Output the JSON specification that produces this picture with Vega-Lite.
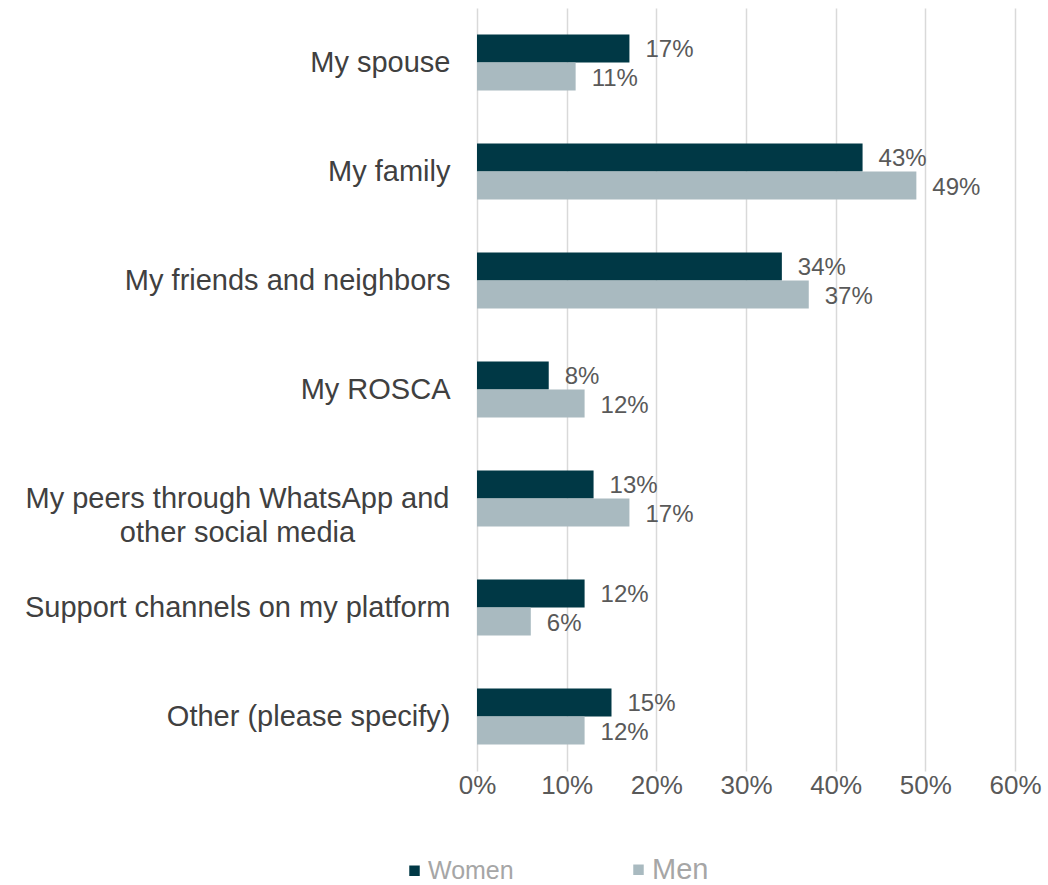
{
  "$schema": "https://vega.github.io/schema/vega-lite/v6.json",
  "autosize": {"type": "none"},
  "padding": {"left": 477, "top": 8, "right": 33, "bottom": 114},
  "width": 538,
  "height": 763,
  "background": "white",
  "config": {"view": {"stroke": null}, "font": "Liberation Sans"},
  "data": {"values": [
    {"category": "My spouse", "group": "Women", "value": 0.17},
    {"category": "My spouse", "group": "Men", "value": 0.11},
    {"category": "My family", "group": "Women", "value": 0.43},
    {"category": "My family", "group": "Men", "value": 0.49},
    {"category": "My friends and neighbors", "group": "Women", "value": 0.34},
    {"category": "My friends and neighbors", "group": "Men", "value": 0.37},
    {"category": "My ROSCA", "group": "Women", "value": 0.08},
    {"category": "My ROSCA", "group": "Men", "value": 0.12},
    {"category": "My peers through WhatsApp and other social media", "group": "Women", "value": 0.13},
    {"category": "My peers through WhatsApp and other social media", "group": "Men", "value": 0.17},
    {"category": "Support channels on my platform", "group": "Women", "value": 0.12},
    {"category": "Support channels on my platform", "group": "Men", "value": 0.06},
    {"category": "Other (please specify)", "group": "Women", "value": 0.15},
    {"category": "Other (please specify)", "group": "Men", "value": 0.12}
  ]},
  "encoding": {
    "y": {
      "field": "category", "type": "nominal", "sort": null,
      "scale": {"paddingInner": 0.486, "paddingOuter": 0.243},
      "axis": {
        "title": null, "domain": false, "ticks": false,
        "labelFontSize": 29, "labelColor": "#404040",
        "labelLimit": 600, "labelLineHeight": 34,
        "labelAlign": {"condition": {"test": "datum.value == 'My peers through WhatsApp and other social media'", "value": "center"}, "value": "right"},
        "labelPadding": {"condition": {"test": "datum.value == 'My peers through WhatsApp and other social media'", "value": 240}, "value": 27},
        "labelExpr": "datum.label == 'My peers through WhatsApp and other social media' ? ['My peers through WhatsApp and', 'other social media'] : datum.label"
      }
    },
    "yOffset": {"field": "group", "type": "nominal", "sort": ["Women", "Men"], "scale": {"paddingInner": 0}},
    "x": {
      "field": "value", "type": "quantitative",
      "scale": {"domain": [0, 0.6], "nice": false},
      "axis": {
        "title": null, "format": ".0%", "values": [0, 0.1, 0.2, 0.3, 0.4, 0.5, 0.6],
        "domain": false, "ticks": false, "grid": true, "gridColor": "#d9d9d9", "gridWidth": 1.5,
        "labelFontSize": 26, "labelColor": "#595959", "labelPadding": 1,
        "labelFlush": false, "labelOverlap": false
      }
    }
  },
  "layer": [
    {
      "mark": {"type": "bar"},
      "encoding": {
        "color": {
          "field": "group", "type": "nominal", "sort": ["Women", "Men"],
          "scale": {"domain": ["Women", "Men"], "range": ["#003845", "#A9BAC0"]},
          "legend": {
            "title": null, "orient": "none", "direction": "horizontal",
            "legendX": -75, "legendY": 849,
            "symbolType": "square", "symbolSize": 110, "symbolStrokeWidth": 0,
            "labelFontSize": 25, "labelColor": "#a6a6a6", "labelOffset": 1,
            "columnPadding": 112,
            "encode": {"labels": {"update": {
              "fontSize": {"signal": "datum.label == 'Men' ? 29 : 25"}
            }}}
          }
        }
      }
    },
    {
      "mark": {"type": "text", "align": "left", "baseline": "middle", "dx": 16, "dy": 2, "fontSize": 24, "color": "#595959"},
      "encoding": {
        "text": {"field": "value", "type": "quantitative", "format": ".0%"}
      }
    }
  ]
}
